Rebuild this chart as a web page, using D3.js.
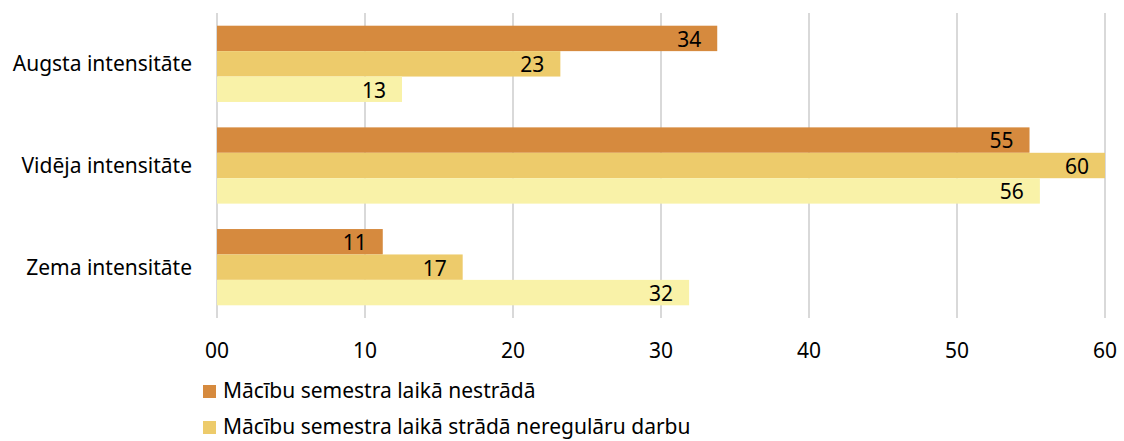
<!DOCTYPE html>
<html>
<head>
<meta charset="utf-8">
<script src="https://cdn.jsdelivr.net/npm/d3@7"></script>
<style>
  body { margin: 0; background: #fff; }
  text { font-family: "Noto Sans", sans-serif; fill: #000; }
</style>
</head>
<body>
<div id="chart"></div>
<script>
// categories (top to bottom)
const categories = ["Augsta intensitāte", "Vidēja intensitāte", "Zema intensitāte"];

// series names + colours
const seriesNames = [
    "Mācību semestra laikā nestrādā",
    "Mācību semestra laikā strādā neregulāru darbu",
    "Mācību semestra laikā strādā regulāru darbu"
];
const seriesColors = ["#d68a3e", "#edcb6b", "#f9f2a8"];

// values per series, same order as categories
const nestrada = [33.8, 54.9, 11.2];
const neregulari = [23.2, 60, 16.6];
const regulari = [12.5, 55.6, 31.9];

const xTicks = [0, 10, 20, 30, 40, 50, 60];
const xTickLabels = ["00", "10", "20", "30", "40", "50", "60"];

const seriesValues = [nestrada, neregulari, regulari];

const margin = {top: 13, right: 19, bottom: 123, left: 217};
const W = 1124, H = 441;
const width = W - margin.left - margin.right;
const height = H - margin.top - margin.bottom;

const svg = d3.select("#chart").append("svg")
    .attr("width", W)
    .attr("height", H);

const g = svg.append("g")
    .attr("transform", "translate(" + margin.left + "," + margin.top + ")");

const x = d3.scaleLinear().domain([0, 60]).range([0, width]);

const y = d3.scaleBand()
    .domain(categories)
    .range([0, height])
    .paddingInner(0.25)
    .paddingOuter(0.125);

const ySub = d3.scaleBand()
    .domain(d3.range(seriesNames.length))
    .range([0, y.bandwidth()]);

// gridlines
g.selectAll(".grid")
    .data(xTicks)
    .enter().append("line")
    .attr("class", "grid")
    .attr("x1", d => x(d)).attr("x2", d => x(d))
    .attr("y1", 0).attr("y2", height)
    .attr("stroke", "#d9d9d9")
    .attr("stroke-width", 2);

// bars
const rows = [];
categories.forEach((c, ci) => {
    seriesValues.forEach((vals, si) => {
        rows.push({cat: c, s: si, v: vals[ci]});
    });
});

g.selectAll(".bar")
    .data(rows)
    .enter().append("rect")
    .attr("class", "bar")
    .attr("x", x(0))
    .attr("y", d => y(d.cat) + ySub(d.s))
    .attr("width", d => x(d.v) - x(0))
    .attr("height", ySub.bandwidth())
    .attr("fill", d => seriesColors[d.s]);

// data labels
g.selectAll(".lbl")
    .data(rows)
    .enter().append("text")
    .attr("class", "lbl")
    .attr("x", d => x(d.v) - 16)
    .attr("y", d => y(d.cat) + ySub(d.s) + ySub.bandwidth() / 2 + 1)
    .attr("dy", "0.35em")
    .attr("text-anchor", "end")
    .style("font-size", "21px")
    .text(d => d3.format(".0f")(d.v));

// category labels
g.selectAll(".cat")
    .data(categories)
    .enter().append("text")
    .attr("class", "cat")
    .attr("x", -25)
    .attr("y", d => y(d) + y.bandwidth() / 2)
    .attr("dy", "0.35em")
    .attr("text-anchor", "end")
    .style("font-size", "21px")
    .text(d => d);

// x tick labels
g.selectAll(".tick-lbl")
    .data(xTicks)
    .enter().append("text")
    .attr("class", "tick-lbl")
    .attr("x", d => x(d))
    .attr("y", height + 40)
    .attr("text-anchor", "middle")
    .style("font-size", "21px")
    .text((d, i) => xTickLabels[i]);

// legend - only the first two entries fit inside the picture
const legend = svg.append("g").attr("transform", "translate(203,385)");
seriesNames.slice(0, 2).forEach((name, i) => {
    const item = legend.append("g").attr("transform", "translate(0," + (i * 36) + ")");
    item.append("rect").attr("width", 13).attr("height", 13).attr("fill", seriesColors[i]);
    item.append("text")
        .attr("x", 20).attr("y", 13)
        .style("font-size", "21px")
        .text(name);
});
</script>
</body>
</html>
